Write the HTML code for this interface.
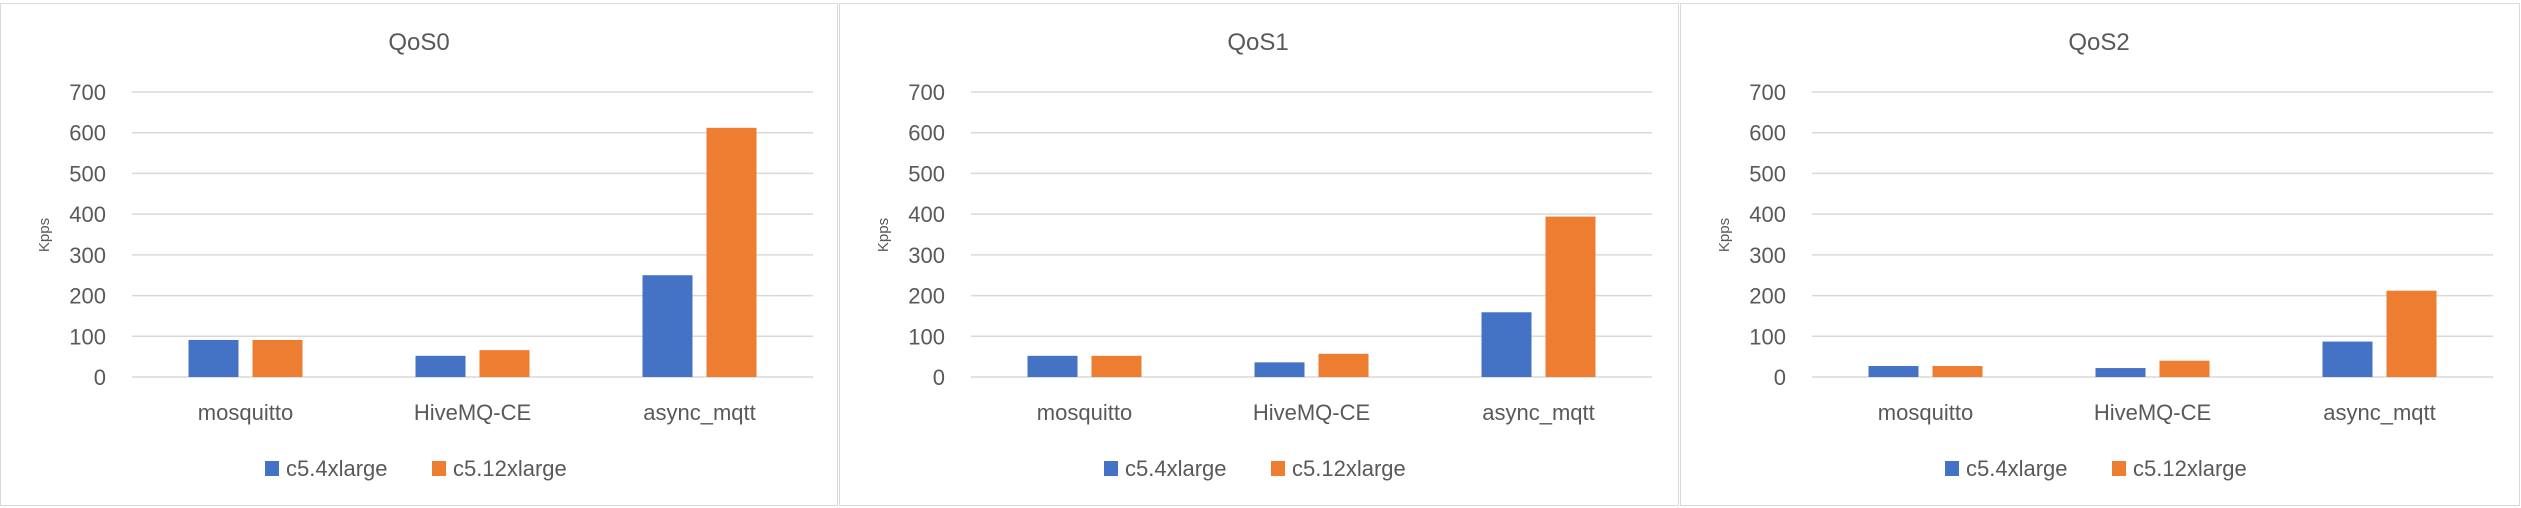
<!DOCTYPE html>
<html><head><meta charset="utf-8"><style>
html,body{margin:0;padding:0;background:#fff;}
svg{display:block;font-family:"Liberation Sans",sans-serif;}
</style></head><body>
<svg id="chart" width="2521" height="508" xmlns="http://www.w3.org/2000/svg"></svg>
<script>
const titles = ["QoS0","QoS1","QoS2"];
const categories = ["mosquitto","HiveMQ-CE","async_mqtt"];
const seriesNames = ["c5.4xlarge","c5.12xlarge"];
const qos0Small = [91, 52, 250];
const qos0Large = [91, 66, 612];
const qos1Small = [52, 36, 159];
const qos1Large = [52, 57, 394];
const qos2Small = [27, 22, 87];
const qos2Large = [27, 40, 212];
const yTicks = [0,100,200,300,400,500,600,700];

const colors = ["#4472c4","#ed7d31"];
const svg = document.getElementById('chart');
const NS = "http://www.w3.org/2000/svg";
function mk(tag, attrs, parent){const e=document.createElementNS(NS,tag);for(const k in attrs)e.setAttribute(k,attrs[k]);(parent||svg).appendChild(e);return e;}

const panelX = [0, 839, 1680];
const panelW = [838, 840, 840];
const data = [[qos0Small,qos0Large],[qos1Small,qos1Large],[qos2Small,qos2Large]];

panelX.forEach((px, p) => {
  const g = mk('g', {});
  
  
  const border = mk('rect', {x:px+0.5, y:3.5, width:panelW[p]-1, height:502, fill:'#fff', stroke:'#d9d9d9', 'stroke-width':1}, g);
  
  
  const x0 = px + 132, x1 = px + 813;
  const yBase = 377, yTop = 92;
  const yS = v => yBase - (v / 700) * (yBase - yTop);
  const t = mk('text', {x:px+419, y:50, 'text-anchor':'middle', 'font-size':24, fill:'#595959'}, g);
  t.textContent = titles[p];
  
  
  yTicks.forEach(v => {
    const ln = mk('line', {x1:x0, x2:x1, y1:yS(v), y2:yS(v), stroke:'#d9d9d9', 'stroke-width':1.5}, g);
    
    
    const tl = mk('text', {x:px+106, y:yS(v)+8, 'text-anchor':'end', 'font-size':22, fill:'#595959'}, g);
    tl.textContent = v;
    
    
  });
  const yl = mk('text', {x:0, y:0, 'text-anchor':'middle', 'font-size':15, fill:'#595959', transform:`translate(${px+49},235) rotate(-90)`}, g);
  yl.textContent = 'Kpps';
  
  
  const gw = (x1 - x0) / categories.length;
  categories.forEach((c, i) => {
    const cx = x0 + gw * (i + 0.5);
    data[p].forEach((ser, s) => {
      const bx = s === 0 ? cx - 57 : cx + 7;
      const b = mk('rect', {x:bx, y:yS(ser[i]), width:50, height:yBase - yS(ser[i]), fill:colors[s]}, g);
      
      
    });
    const cl = mk('text', {x:cx, y:420, 'text-anchor':'middle', 'font-size':22, fill:'#595959'}, g);
    cl.textContent = c;
    
    
  });
  const lx = [265, 432];
  seriesNames.forEach((n, s) => {
    const sw = mk('rect', {x:px+lx[s], y:461, width:14, height:15, fill:colors[s]}, g);
    
    
    const lt = mk('text', {x:px+lx[s]+21, y:476, 'font-size':22, fill:'#595959'}, g);
    lt.textContent = n;
    
    
  });
});
</script>
</body></html>
